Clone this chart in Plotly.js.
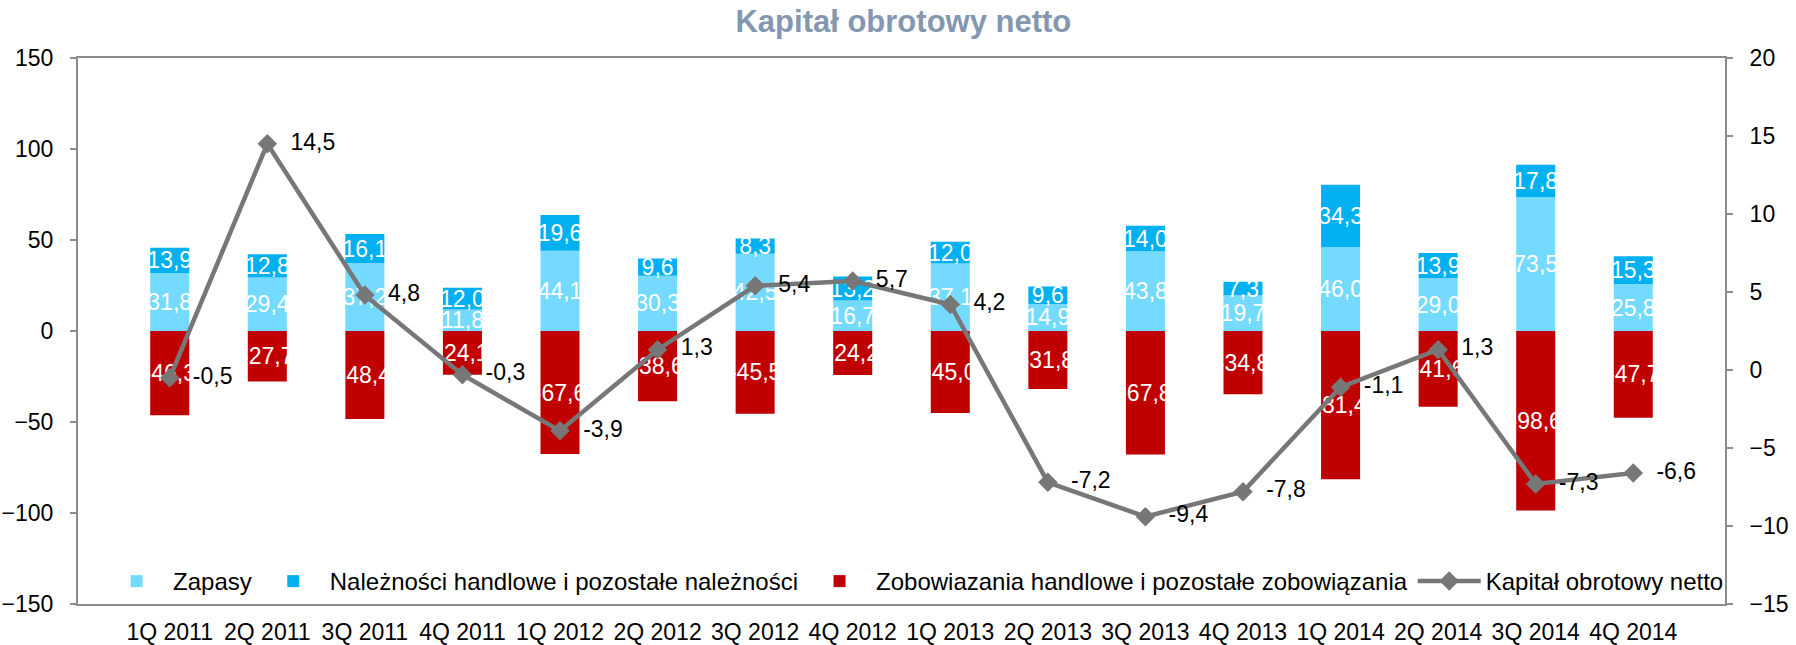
<!DOCTYPE html>
<html>
<head>
<meta charset="utf-8">
<script src="https://cdn.plot.ly/plotly-3.0.1.min.js"></script>
<style>html,body{margin:0;padding:0;background:#fff;}#chart{width:1796px;height:645px;}</style>
</head>
<body>
<div id="chart"></div>
<script>
const categories = ["1Q 2011","2Q 2011","3Q 2011","4Q 2011","1Q 2012","2Q 2012","3Q 2012","4Q 2012","1Q 2013","2Q 2013","3Q 2013","4Q 2013","1Q 2014","2Q 2014","3Q 2014","4Q 2014"];
const zapasy = [31.8, 29.4, 37.2, 11.8, 44.1, 30.3, 42.5, 16.7, 37.1, 14.9, 43.8, 19.7, 46.0, 29.0, 73.5, 25.8];
const naleznosci = [13.9, 12.8, 16.1, 12.0, 19.6, 9.6, 8.3, 13.2, 12.0, 9.6, 14.0, 7.3, 34.3, 13.9, 17.8, 15.3];
const zobowiazania = [-46.3, -27.7, -48.4, -24.1, -67.6, -38.6, -45.5, -24.2, -45.0, -31.8, -67.8, -34.8, -81.4, -41.6, -98.6, -47.7];
const kapital = [-0.5, 14.5, 4.8, -0.3, -3.9, 1.3, 5.4, 5.7, 4.2, -7.2, -9.4, -7.8, -1.1, 1.3, -7.3, -6.6];
const seriesNames = ["Zapasy", "Należności handlowe i pozostałe należności", "Zobowiazania handlowe i pozostałe zobowiązania", "Kapitał obrotowy netto"];
const leftTicks = [-150, -100, -50, 0, 50, 100, 150];
const rightTicks = [-15, -10, -5, 0, 5, 10, 15, 20];

const FONT = "Liberation Sans, Arial, sans-serif";
const AXIS_COLOR = "#8c8c8c";
const barText = {color: "#ffffff", size: 23, family: FONT};

function barTrace(vals, name, color) {
  return {
    type: "bar", x: categories, y: vals, name: name,
    marker: {color: color, line: {width: 0}},
    texttemplate: "%{y:.1f}", textposition: "inside", insidetextanchor: "middle",
    textangle: 0, constraintext: "none", textfont: barText, insidetextfont: barText,
    hoverinfo: "skip"
  };
}

const traces = [
  barTrace(zapasy, seriesNames[0], "#75DAFF"),
  barTrace(naleznosci, seriesNames[1], "#00B0F0"),
  barTrace(zobowiazania, seriesNames[2], "#C00000"),
  {
    type: "scatter", mode: "lines+markers+text", x: categories, y: kapital, yaxis: "y2",
    name: seriesNames[3],
    line: {color: "#777777", width: 4.5},
    marker: {symbol: "diamond", size: 15, color: "#777777"},
    texttemplate: "\u00a0\u00a0%{y:.1f}", textposition: "middle right",
    textfont: {color: "#000000", size: 23, family: FONT},
    cliponaxis: false, hoverinfo: "skip"
  }
];

const boundaries = categories.slice(0, -1).map((c, i) => i + 0.5);

const layout = {
  width: 1796, height: 645,
  paper_bgcolor: "#ffffff", plot_bgcolor: "#ffffff",
  separators: ", ",
  font: {family: FONT, size: 23, color: "#000000"},
  margin: {l: 78, r: 71, t: 58, b: 41, pad: 0},
  title: {text: "<b>Kapitał obrotowy netto</b>", font: {size: 31, color: "#8497B0", family: FONT},
          x: 0.503, xanchor: "center", y: 0.967, yanchor: "middle"},
  barmode: "relative", bargap: 0.6,
  showlegend: true,
  legend: {orientation: "h", x: 0.0134, xanchor: "left", y: 0.0, yanchor: "bottom",
           bgcolor: "rgba(255,255,255,0)", font: {size: 24, family: FONT}, traceorder: "normal",
           itemwidth: 63},
  xaxis: {type: "category", showgrid: false, zeroline: false, showline: true, mirror: true,
          linecolor: AXIS_COLOR, linewidth: 2, ticks: "", tickfont: {size: 23},
          ticklabelstandoff: 6},
  xaxis2: {overlaying: "x", anchor: "free", position: 0.5, type: "linear", range: [-0.5, categories.length - 0.5],
           tickvals: boundaries, ticks: "outside", ticklen: 6, tickwidth: 2, tickcolor: AXIS_COLOR,
           showticklabels: false, showline: true, linecolor: AXIS_COLOR, linewidth: 2,
           showgrid: false, zeroline: false, fixedrange: true},
  yaxis: {range: [-150, 150], tickvals: leftTicks, showgrid: false, zeroline: false,
          showline: true, linecolor: AXIS_COLOR, linewidth: 2, ticks: "outside", ticklen: 6,
          tickwidth: 2, tickcolor: AXIS_COLOR, tickfont: {size: 23}, ticklabelstandoff: 12},
  yaxis2: {overlaying: "y", side: "right", range: [-15, 20], tickvals: rightTicks, showgrid: false,
           zeroline: false, showline: true, linecolor: AXIS_COLOR, linewidth: 2, ticks: "outside",
           ticklen: 6, tickwidth: 2, tickcolor: AXIS_COLOR, tickfont: {size: 23}, ticklabelstandoff: 12}
};

Plotly.newPlot("chart", traces, layout, {displayModeBar: false, staticPlot: true});
</script>
</body>
</html>
